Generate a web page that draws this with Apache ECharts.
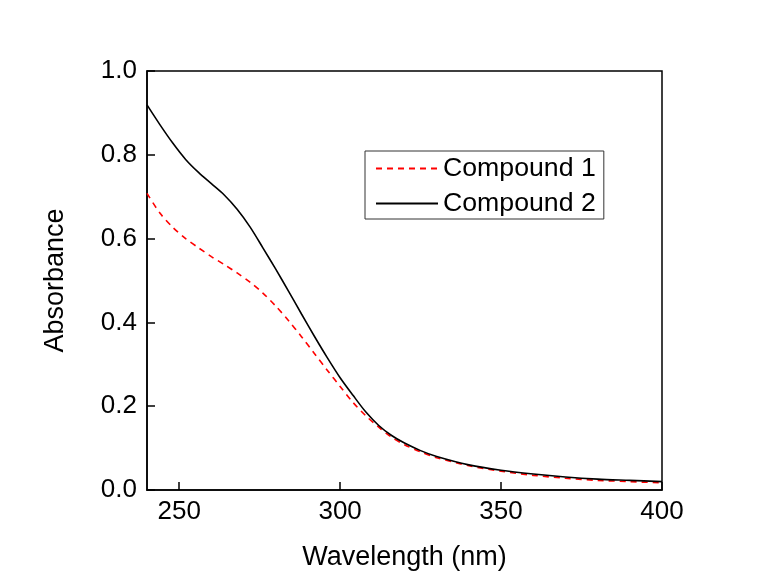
<!DOCTYPE html>
<html>
<head>
<meta charset="utf-8">
<script src="https://cdn.jsdelivr.net/npm/echarts@6/dist/echarts.min.js"></script>
<style>
  html, body { margin: 0; padding: 0; background: #fff; }
  #chart { width: 762px; height: 583px; }
</style>
</head>
<body>
<div id="chart"></div>
<script>
  // wavelengths (nm) and absorbance
  const wavelength = [240, 244, 248, 252, 256, 260, 264, 268, 272, 276, 280, 284, 288, 292, 296, 300, 304, 308, 312, 316, 320, 325, 330, 340, 350, 360, 370, 380, 390, 400];
  const compound1 = [0.708, 0.661, 0.627, 0.600, 0.578, 0.557, 0.538, 0.518, 0.496, 0.470, 0.439, 0.404, 0.366, 0.326, 0.286, 0.247, 0.209, 0.177, 0.150, 0.126, 0.108, 0.091, 0.077, 0.058, 0.045, 0.035, 0.028, 0.023, 0.020, 0.017];
  const compound2 = [0.919, 0.872, 0.828, 0.789, 0.758, 0.731, 0.704, 0.670, 0.628, 0.578, 0.527, 0.474, 0.420, 0.367, 0.316, 0.268, 0.226, 0.186, 0.154, 0.130, 0.112, 0.094, 0.080, 0.060, 0.047, 0.038, 0.031, 0.026, 0.023, 0.020];
  const xTicks = [250, 300, 350, 400];
  const yTicks = [0, 0.2, 0.4, 0.6, 0.8, 1.0];

  const font = 'Liberation Sans, Arial, sans-serif';
  const chart = echarts.init(document.getElementById('chart'));

  const option = {
    animation: false,
    backgroundColor: '#fff',
    grid: {
      left: 147, right: 100, top: 71, bottom: 93,
      show: true, borderColor: '#000', borderWidth: 1.5
    },
    legend: {
      orient: 'vertical',
      left: 365, top: 151,
      padding: [4, 8, 2, 10],
      itemWidth: 62, itemHeight: 14, itemGap: 8,
      borderColor: '#333', borderWidth: 1,
      itemStyle: { opacity: 0 },
      textStyle: { fontFamily: font, fontSize: 26.7, color: '#000', lineHeight: 26 },
      data: ['Compound 1', 'Compound 2']
    },
    xAxis: {
      type: 'value',
      min: 240, max: 400,
      name: 'Wavelength (nm)',
      nameLocation: 'middle',
      nameGap: 54,
      nameTextStyle: { fontFamily: font, fontSize: 27, color: '#000' },
      axisLine: { lineStyle: { color: '#000', width: 1.5 } },
      axisTick: { inside: true, length: 8, customValues: xTicks, lineStyle: { color: '#000', width: 1.5 } },
      axisLabel: { customValues: xTicks, margin: 9, fontFamily: font, fontSize: 26, color: '#000' },
      splitLine: { show: false }
    },
    yAxis: {
      type: 'value',
      min: 0, max: 1.0,
      name: 'Absorbance',
      nameLocation: 'middle',
      nameGap: 78,
      nameTextStyle: { fontFamily: font, fontSize: 27, color: '#000' },
      axisLine: { show: true, lineStyle: { color: '#000', width: 1.5 } },
      axisTick: { show: true, inside: true, length: 8, customValues: yTicks, lineStyle: { color: '#000', width: 1.5 } },
      axisLabel: {
        customValues: yTicks, margin: 10, fontFamily: font, fontSize: 26, color: '#000',
        formatter: v => v.toFixed(1)
      },
      splitLine: { show: false }
    },
    series: [
      {
        name: 'Compound 1',
        type: 'line',
        smooth: 0.3,
        symbol: 'none',
        lineStyle: { color: '#ff0000', width: 1.6, type: [6, 5] },
        itemStyle: { color: '#ff0000' },
        data: wavelength.map((w, i) => [w, compound1[i]])
      },
      {
        name: 'Compound 2',
        type: 'line',
        smooth: 0.3,
        symbol: 'none',
        lineStyle: { color: '#000', width: 1.6 },
        itemStyle: { color: '#000' },
        data: wavelength.map((w, i) => [w, compound2[i]])
      }
    ]
  };
  chart.setOption(option);
</script>
</body>
</html>
